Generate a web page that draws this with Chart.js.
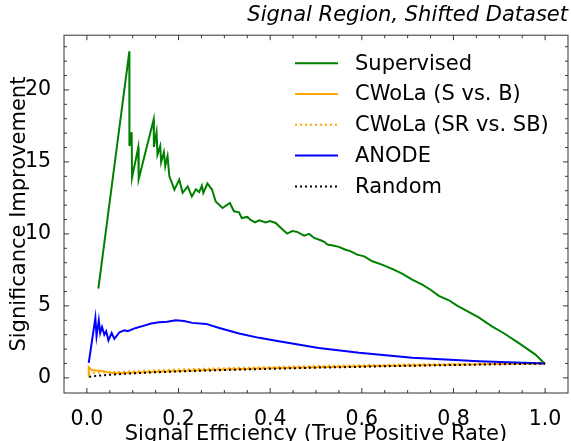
<!DOCTYPE html>
<html>
<head>
<meta charset="utf-8">
<script src="https://cdn.jsdelivr.net/npm/chart.js@4"></script>
<style>
	body { margin: 0; background: #fff; }
	#wrap { width: 571px; height: 441px; position: relative; }
</style>
</head>
<body>
<div id="wrap"><canvas id="sigChart"></canvas></div>
<script>
// values
const supEff = [0.025, 0.0926, 0.0928, 0.0977, 0.0985, 0.112, 0.113, 0.1456, 0.1462, 0.152, 0.154, 0.160, 0.162, 0.168, 0.171, 0.176, 0.180, 0.191, 0.2015, 0.209, 0.220, 0.229, 0.238, 0.245, 0.251, 0.254, 0.263, 0.273, 0.281, 0.296, 0.312, 0.321, 0.332, 0.338, 0.350, 0.358, 0.367, 0.376, 0.39, 0.40, 0.412, 0.427, 0.437, 0.448, 0.459, 0.474, 0.485, 0.496, 0.510, 0.518, 0.525, 0.537, 0.550, 0.563, 0.576, 0.590, 0.605, 0.623, 0.644, 0.666, 0.688, 0.710, 0.732, 0.750, 0.768, 0.790, 0.808, 0.826, 0.855, 0.884, 0.91, 0.942, 0.979, 1.0];
const supSI = [6.2, 22.68, 16.1, 17.06, 13.9, 16.0, 13.8, 17.94, 16.04, 17.06, 15.5, 16.1, 14.97, 15.67, 14.7, 15.4, 14.0, 13.07, 13.77, 12.85, 13.3, 12.6, 13.1, 12.9, 13.35, 12.85, 13.5, 13.08, 12.26, 11.8, 12.15, 11.57, 11.5, 11.1, 11.18, 10.95, 10.8, 10.94, 10.8, 10.9, 10.76, 10.3, 10.02, 10.2, 10.14, 9.88, 10.0, 9.72, 9.56, 9.45, 9.26, 9.2, 9.1, 8.92, 8.79, 8.56, 8.44, 8.1, 7.87, 7.57, 7.24, 6.83, 6.48, 6.12, 5.7, 5.39, 5.02, 4.7, 4.2, 3.58, 3.1, 2.43, 1.62, 0.97];

const cwolaEff = [0.003, 0.004, 0.01, 0.02, 0.03, 0.045, 0.06, 0.1, 0.15, 0.2, 0.3, 0.4, 0.5, 0.6, 0.7, 0.8, 0.9, 1.0];
const cwolaSI = [0.10, 0.74, 0.55, 0.52, 0.50, 0.40, 0.33, 0.36, 0.42, 0.48, 0.58, 0.67, 0.74, 0.81, 0.86, 0.91, 0.96, 1.0];

const cwolaSrEff = [0.003, 0.01, 0.03, 0.06, 0.1, 0.15, 0.2, 0.3, 0.4, 0.5, 0.6, 0.7, 0.8, 0.9, 1.0];
const cwolaSrSI = [0.25, 0.35, 0.38, 0.40, 0.45, 0.52, 0.58, 0.67, 0.75, 0.82, 0.88, 0.93, 0.96, 0.98, 1.0];

const anodeEff = [0.004, 0.0185, 0.021, 0.026, 0.029, 0.033, 0.038, 0.042, 0.047, 0.054, 0.060, 0.071, 0.082, 0.089, 0.107, 0.125, 0.140, 0.158, 0.175, 0.194, 0.212, 0.230, 0.260, 0.289, 0.332, 0.376, 0.419, 0.506, 0.594, 0.710, 0.855, 1.0];
const anodeSI = [1.04, 4.17, 2.9, 4.0, 3.12, 3.54, 3.0, 3.24, 2.61, 3.12, 2.71, 3.17, 3.3, 3.24, 3.47, 3.63, 3.77, 3.86, 3.9, 4.0, 3.95, 3.82, 3.75, 3.47, 3.08, 2.78, 2.55, 2.08, 1.74, 1.39, 1.15, 1.0];

const randEff = [0.005, 0.02, 0.05, 0.1, 0.15, 0.2, 0.25, 0.3, 0.35, 0.4, 0.45, 0.5, 0.55, 0.6, 0.65, 0.7, 0.75, 0.8, 0.85, 0.9, 0.95, 1.0];
const randSI = [0.07, 0.14, 0.22, 0.32, 0.39, 0.45, 0.5, 0.55, 0.59, 0.63, 0.67, 0.71, 0.74, 0.77, 0.81, 0.84, 0.87, 0.89, 0.92, 0.95, 0.97, 1.0];

const xTicks = [0, 0.2, 0.4, 0.6, 0.8, 1.0];
const yTicks = [0, 5, 10, 15, 20];

const FONT = "'DejaVu Sans', sans-serif";

function pairs(xs, ys) {
	return xs.map((v, i) => ({ x: v, y: ys[i] }));
}

// ticks pointing inward on all four sides, plus the box
const frameTicks = {
	id: "frameTicks",
	afterDatasetsDraw(chart) {
		const { ctx, chartArea: a, scales } = chart;
		const sx = scales.x, sy = scales.y;
		ctx.save();
		ctx.strokeStyle = "#333";
		ctx.lineWidth = 1;
		ctx.strokeRect(a.left, a.top, a.right - a.left, a.bottom - a.top);
		ctx.beginPath();
		for (let i = -1; i <= 21; i++) {
			const v = i * 0.05;
			const px = sx.getPixelForValue(v);
			if (px < a.left + 1 || px > a.right - 1) continue;
			const len = i % 4 === 0 ? 5 : 3;
			ctx.moveTo(px, a.bottom); ctx.lineTo(px, a.bottom - len);
			ctx.moveTo(px, a.top); ctx.lineTo(px, a.top + len);
		}
		for (let v = -1; v <= 23; v++) {
			const py = sy.getPixelForValue(v);
			if (py < a.top + 1 || py > a.bottom - 1) continue;
			const len = v % 5 === 0 ? 5 : 3;
			ctx.moveTo(a.left, py); ctx.lineTo(a.left + len, py);
			ctx.moveTo(a.right, py); ctx.lineTo(a.right - len, py);
		}
		ctx.stroke();
		ctx.restore();
	},
};

// legend drawn inside the axes like matplotlib's
const innerLegend = {
	id: "innerLegend",
	afterDraw(chart) {
		const { ctx, chartArea: a } = chart;
		const x0 = a.right - 273;
		ctx.save();
		ctx.font = "21px " + FONT;
		ctx.textBaseline = "middle";
		ctx.fillStyle = "#000";
		chart.data.datasets.forEach((ds, i) => {
			const yy = a.top + 28 + i * 30.8;
			ctx.beginPath();
			ctx.strokeStyle = ds.borderColor;
			ctx.lineWidth = ds.borderWidth;
			ctx.setLineDash(ds.borderDash || []);
			ctx.moveTo(x0, yy);
			ctx.lineTo(x0 + 43, yy);
			ctx.stroke();
			ctx.fillText(ds.label, x0 + 60, yy + 1);
		});
		ctx.restore();
	},
};

const ctx = document.getElementById("sigChart").getContext("2d");
const sigChart = new Chart(ctx, {
	type: "line",
	data: {
		datasets: [
			{ label: "Supervised", data: pairs(supEff, supSI), borderColor: "#008000", borderWidth: 2, order: 5 },
			{ label: "CWoLa (S vs. B)", data: pairs(cwolaEff, cwolaSI), borderColor: "#ffa500", borderWidth: 2, order: 4 },
			{ label: "CWoLa (SR vs. SB)", data: pairs(cwolaSrEff, cwolaSrSI), borderColor: "#ffa500", borderWidth: 2, borderDash: [2, 3], order: 3 },
			{ label: "ANODE", data: pairs(anodeEff, anodeSI), borderColor: "#0000ff", borderWidth: 2, order: 2 },
			{ label: "Random", data: pairs(randEff, randSI), borderColor: "#000000", borderWidth: 2, borderDash: [2, 3], order: 1 },
		],
	},
	options: {
		responsive: true,
		maintainAspectRatio: false,
		animation: false,
		events: [],
		elements: {
			point: { radius: 0 },
			line: { tension: 0, fill: false },
		},
		layout: { padding: { left: 0, right: 3, top: 0, bottom: 0 } },
		plugins: {
			legend: { display: false },
			tooltip: { enabled: false },
			title: {
				display: true,
				text: "Signal Region, Shifted Dataset",
				align: "end",
				color: "#000",
				font: { family: FONT, size: 21, style: "italic", weight: "normal" },
				padding: { top: 3, bottom: 7 },
			},
		},
		scales: {
			x: {
				type: "linear",
				min: -0.05,
				max: 1.05,
				afterBuildTicks(scale) {
					scale.ticks = xTicks.map((v) => ({ value: v }));
				},
				afterFit(scale) {
					scale.height = 48;
				},
				grid: { display: false },
				border: { display: false },
				ticks: {
					color: "#000",
					padding: 6,
					maxRotation: 0,
					font: { family: FONT, size: 20.5 },
					callback: (v) => v.toFixed(1),
				},
				title: {
					display: true,
					text: "Signal Efficiency (True Positive Rate)",
					color: "#000",
					font: { family: FONT, size: 21 },
					padding: { top: 0, bottom: -6 },
				},
			},
			y: {
				type: "linear",
				min: -1.05,
				max: 23.8,
				afterBuildTicks(scale) {
					scale.ticks = yTicks.map((v) => ({ value: v }));
				},
				afterFit(scale) {
					scale.width = 64;
				},
				grid: { display: false },
				border: { display: false },
				ticks: {
					color: "#000",
					padding: 5,
					font: { family: FONT, size: 20.5 },
				},
				title: {
					display: true,
					text: "Significance Improvement",
					color: "#000",
					font: { family: FONT, size: 21 },
					padding: { top: 7, bottom: 0 },
				},
			},
		},
	},
	plugins: [frameTicks, innerLegend],
});
</script>
</body>
</html>
